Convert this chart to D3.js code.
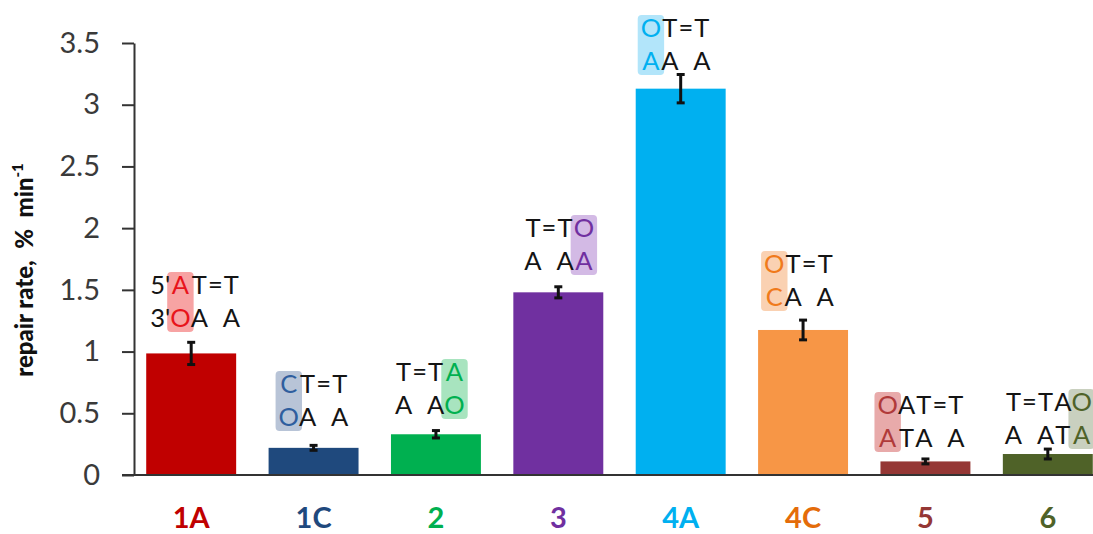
<!DOCTYPE html>
<html>
<head>
<meta charset="utf-8">
<script src="https://cdn.jsdelivr.net/npm/d3@7"></script>
<style>
  body { margin: 0; background: #fff; }
  svg { display: block; }
</style>
</head>
<body>
<svg id="chart" width="1093" height="534"></svg>
<script>
// Repair rates (% per minute) of the lesion-containing duplexes
const categories = ["1A", "1C", "2", "3", "4A", "4C", "5", "6"];
const rates      = [0.985, 0.22, 0.33, 1.48, 3.13, 1.175, 0.11, 0.17];
const errors     = [0.09, 0.02, 0.03, 0.045, 0.115, 0.08, 0.02, 0.04];
const yTicks     = [0, 0.5, 1, 1.5, 2, 2.5, 3, 3.5];

// Duplex sketches: each column is [upper strand, lower strand]; `mark` is the highlighted pair
const duplexColumns = [
  [["5'", "3'"], ["A", "O"], ["T", "A"], ["=", ""], ["T", "A"]],
  [["C", "O"], ["T", "A"], ["=", ""], ["T", "A"]],
  [["T", "A"], ["=", ""], ["T", "A"], ["A", "O"]],
  [["T", "A"], ["=", ""], ["T", "A"], ["O", "A"]],
  [["O", "A"], ["T", "A"], ["=", ""], ["T", "A"]],
  [["O", "C"], ["T", "A"], ["=", ""], ["T", "A"]],
  [["O", "A"], ["A", "T"], ["T", "A"], ["=", ""], ["T", "A"]],
  [["T", "A"], ["=", ""], ["T", "A"], ["A", "T"], ["O", "A"]]
];
const duplexMark = [1, 0, 3, 3, 0, 0, 0, 4];

// Styling
const barColors   = ["#C00000", "#1F497D", "#00B050", "#7030A0", "#00B0F0", "#F79646", "#953735", "#4F6228"];
const labelColors = ["#C00000", "#1F497D", "#00B050", "#7030A0", "#00B0F0", "#E46C0A", "#953735", "#4F6228"];
const markText    = ["#E8141B", "#2F5E9E", "#00B050", "#7030A0", "#00B0F0", "#F07A1B", "#B03A3A", "#4F6228"];
const markFill    = ["#F7A3A3", "#B8C4D7", "#A8E4BF", "#D3BAE5", "#B2E5FA", "#FAD1B2", "#E8AAAA", "#C9D0BF"];
// Duplex label placement: offset from band start, baseline of upper strand
const duplexDx    = [4, 10, 4, 11, 5, 6, -3, 2];
const duplexY     = [294, 393, 381, 237, 37, 273, 414, 411];

const svg = d3.select("#chart");
const font = "Lato, 'Open Sans', 'DejaVu Sans', sans-serif";

const x = d3.scaleBand()
  .domain(categories)
  .range([130, 1109])
  .paddingInner(0.265)
  .paddingOuter(0.1325);

const y = d3.scaleLinear().domain([0, 3.5]).range([475, 43]);
const axisX = 134;

// Value axis
const yAxis = svg.append("g")
  .attr("transform", `translate(${axisX},0)`)
  .call(d3.axisLeft(y).tickValues(yTicks).tickFormat(d3.format("")).tickSize(12).tickPadding(22).tickSizeOuter(0));
yAxis.select(".domain").attr("stroke", "#333").attr("stroke-width", 2);
yAxis.selectAll(".tick line").attr("stroke", "#333").attr("stroke-width", 2);
yAxis.selectAll(".tick text")
  .attr("font-family", font).attr("font-size", 29).attr("fill", "#3a3a3a");

// Axis title
svg.append("text")
  .attr("transform", "translate(33,270) rotate(-90)")
  .attr("text-anchor", "middle")
  .attr("font-family", font).attr("font-weight", 900).attr("font-size", 24)
  .attr("fill", "#111")
  .attr("xml:space", "preserve")
  .call(t => {
    t.append("tspan").text("repair rate,  %  min");
    t.append("tspan").attr("dy", -10).attr("font-size", 15).text("-1");
  });

// Bars
svg.append("g").selectAll("rect")
  .data(categories)
  .join("rect")
  .attr("x", d => x(d))
  .attr("width", x.bandwidth())
  .attr("y", (d, i) => y(rates[i]))
  .attr("height", (d, i) => y(0) - y(rates[i]))
  .attr("fill", (d, i) => barColors[i]);

// Error bars
const eb = svg.append("g").attr("stroke", "#111").attr("stroke-width", 3);
categories.forEach((c, i) => {
  const cx = x(c) + x.bandwidth() / 2;
  const lo = y(rates[i] - errors[i]), hi = y(rates[i] + errors[i]);
  eb.append("line").attr("x1", cx).attr("x2", cx).attr("y1", lo).attr("y2", hi);
  eb.append("line").attr("x1", cx - 4).attr("x2", cx + 4).attr("y1", lo).attr("y2", lo);
  eb.append("line").attr("x1", cx - 4).attr("x2", cx + 4).attr("y1", hi).attr("y2", hi);
});

// Baseline
svg.append("line")
  .attr("x1", axisX - 12).attr("x2", 1093)
  .attr("y1", y(0)).attr("y2", y(0))
  .attr("stroke", "#333").attr("stroke-width", 2);

// Category labels
const xAxis = svg.append("g")
  .attr("transform", `translate(0,${y(0)})`)
  .call(d3.axisBottom(x).tickSize(0).tickPadding(32));
xAxis.select(".domain").remove();
xAxis.selectAll(".tick text")
  .attr("font-family", font).attr("font-weight", "bold").attr("font-size", 29)
  .attr("fill", (d, i) => labelColors[i]);

// Duplex sketches above the bars
const lineGap = 33;
categories.forEach((c, i) => {
  const g = svg.append("g")
    .attr("transform", `translate(${x(c) + duplexDx[i]},${duplexY[i]})`)
    .attr("font-family", font).attr("font-size", 25.5);
  const bg = g.append("g");
  let cx = 0;
  duplexColumns[i].forEach((col, k) => {
    const marked = k === duplexMark[i];
    const fill = marked ? markText[i] : "#141414";
    const top = g.append("text").attr("y", 0).attr("fill", fill).text(col[0]);
    const bot = g.append("text").attr("y", lineGap).attr("fill", fill).text(col[1]);
    const wt = top.node().getComputedTextLength();
    const wb = bot.node().getComputedTextLength();
    const w = Math.max(wt, wb);
    top.attr("x", cx + (w - wt) / 2);
    bot.attr("x", cx + (w - wb) / 2);
    if (marked) {
      bg.append("rect")
        .attr("x", cx - 3).attr("width", w + 6)
        .attr("y", -22).attr("height", lineGap + 27)
        .attr("rx", 4)
        .attr("fill", markFill[i]);
    }
    cx += w;
  });
});
</script>
</body>
</html>
